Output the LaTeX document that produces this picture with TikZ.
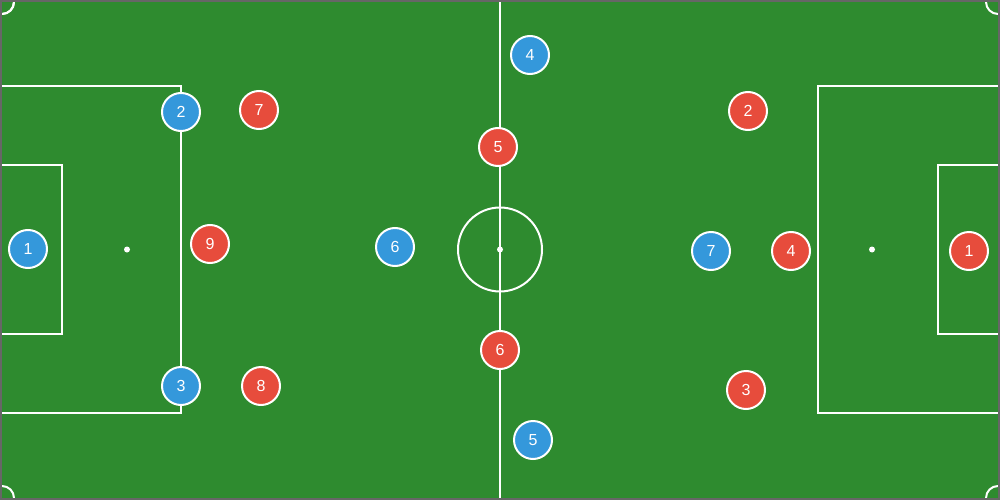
\documentclass[tikz,border=0pt]{standalone}
\usepackage{fontspec}
\setmainfont{Liberation Sans}
\definecolor{pitch}{HTML}{2E8B2F}
\definecolor{edge}{HTML}{666666}
\definecolor{blueteam}{HTML}{3498DB}
\definecolor{redteam}{HTML}{E74C3C}
\begin{document}
\begin{tikzpicture}[x=1pt,y=-1pt,
  fieldline/.style={draw=white,line width=2pt},
  spot/.style={circle,fill=white,inner sep=0pt,minimum size=6pt},
  player/.style={circle,draw=white,line width=2pt,minimum size=38pt,inner sep=0pt,text=white,font=\fontsize{16}{16}\selectfont},
  bluep/.style={player,fill=blueteam},
  redp/.style={player,fill=redteam}]
\useasboundingbox (0,0) rectangle (1000,500);
\fill[pitch] (0,0) rectangle (1000,500);
% corner arcs
\draw[fieldline] (2,14) arc[start angle=90,end angle=0,radius=12] ;
\draw[fieldline] (2,14) arc[start angle=-90,end angle=0,radius=-12];
\draw[fieldline] (14,2) arc[start angle=0,end angle=90,radius=12];
\draw[fieldline] (986,2) arc[start angle=180,end angle=90,radius=12];
\draw[fieldline] (14,498) arc[start angle=0,end angle=-90,radius=12];
\draw[fieldline] (986,498) arc[start angle=180,end angle=270,radius=12];
% halfway line and centre
\draw[fieldline] (500,0) -- (500,500);
\draw[fieldline] (500,249.5) circle[radius=42];
\node[spot] (cs) at (500,249.5) {};
% penalty areas
\draw[fieldline] (0,86) -- (181,86) -- (181,413) -- (0,413);
\draw[fieldline] (0,165) -- (62,165) -- (62,334) -- (0,334);
\node[spot] (ls) at (127,249.5) {};
\draw[fieldline] (1000,86) -- (818,86) -- (818,413) -- (1000,413);
\draw[fieldline] (1000,165) -- (938,165) -- (938,334) -- (1000,334);
\node[spot] (rs) at (872,249.5) {};
% border
\draw[edge,line width=2pt] (1,1) rectangle (999,499);
% blue team
\node[bluep] (b1) at (28,249) {1};
\node[bluep] (b2) at (181,112) {2};
\node[bluep] (b3) at (181,386) {3};
\node[bluep] (b4) at (530,55) {4};
\node[bluep] (b5) at (533,440) {5};
\node[bluep] (b6) at (395,247) {6};
\node[bluep] (b7) at (711,251) {7};
% red team
\node[redp] (r1) at (969,251) {1};
\node[redp] (r2) at (748,111) {2};
\node[redp] (r3) at (746,390) {3};
\node[redp] (r4) at (791,251) {4};
\node[redp] (r5) at (498,147) {5};
\node[redp] (r6) at (500,350) {6};
\node[redp] (r7) at (259,110) {7};
\node[redp] (r8) at (261,386) {8};
\node[redp] (r9) at (210,244) {9};
\end{tikzpicture}
\end{document}
